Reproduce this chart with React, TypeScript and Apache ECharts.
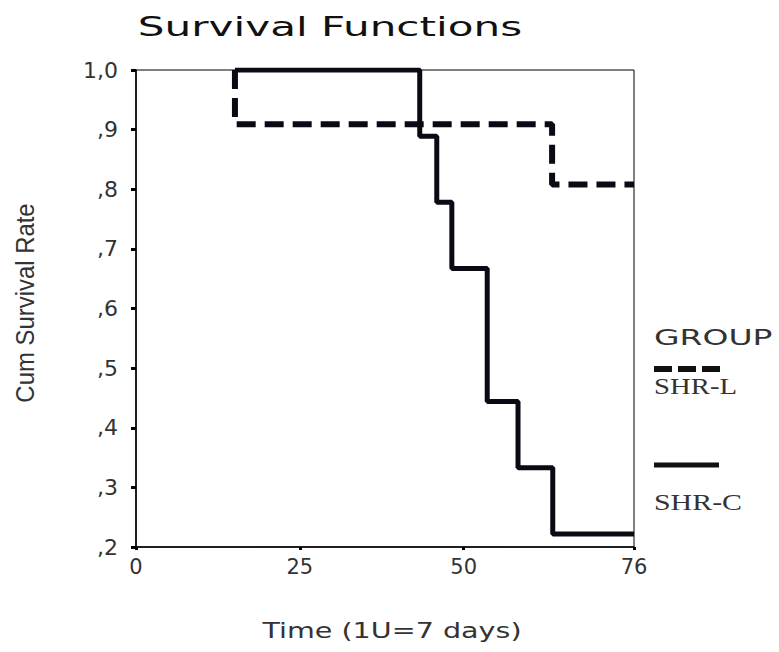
import React, { useEffect, useRef } from "react";
import * as echarts from "echarts";

// Kaplan-Meier step data (time in units of 7 days)
const timesC = [15.1, 43.3, 45.9, 48.2, 53.6, 58.3, 63.6, 76];
const survC = [1.0, 0.889, 0.778, 0.667, 0.444, 0.333, 0.222, 0.222];
const timesL = [15.1, 15.1, 63.5, 76];
const survL = [1.0, 0.909, 0.808, 0.808];

const xTicks = { min: 0, max: 76, interval: 25 };
const yTicks = { min: 0.2, max: 1.0, interval: 0.1 };

const titleText = "Survival Functions";
const xName = "Time (1U=7 days)";
const yName = "Cum Survival Rate";
const legendTitle = "GROUP";
const groupNames = ["SHR-L", "SHR-C"];

export default function App() {
  const ref = useRef<HTMLDivElement>(null);
  useEffect(() => {
    if (!ref.current) return;
    const chart = echarts.init(ref.current, null, { renderer: "svg" });
    const dataC = timesC.map((t, i) => [t, survC[i]]);
    const dataL = timesL.map((t, i) => [t, survL[i]]);
    const sans = "DejaVu Sans";
    chart.setOption({
      animation: false,
      backgroundColor: "#fff",
      grid: {
        left: 136,
        right: 145,
        top: 70,
        bottom: 105,
        show: true,
        borderColor: "#000",
        borderWidth: 1,
      },
      xAxis: {
        type: "value",
        min: xTicks.min,
        max: xTicks.max,
        interval: xTicks.interval,
        splitLine: { show: false },
        axisLine: { show: true, lineStyle: { color: "#000", width: 1.5 } },
        axisTick: { show: true, length: 3, lineStyle: { color: "#000", width: 3 } },
        axisLabel: {
          show: true,
          margin: 9,
          color: "#333",
          fontFamily: sans,
          fontSize: 21,
          showMaxLabel: true,
          showMinLabel: true,
          formatter: (v: number) => String(Math.round(v)),
        },
      },
      yAxis: {
        type: "value",
        min: yTicks.min,
        max: yTicks.max,
        interval: yTicks.interval,
        splitLine: { show: false },
        axisLine: { show: true, lineStyle: { color: "#000", width: 1.5 } },
        axisTick: { show: true, length: 5, lineStyle: { color: "#000", width: 3 } },
        axisLabel: {
          show: true,
          margin: 18,
          color: "#333",
          fontFamily: sans,
          fontSize: 22,
          formatter: (v: number) =>
            v >= 0.999 ? "1,0" : "," + String(Math.round(v * 10)),
        },
      },
      series: [
        {
          name: groupNames[0],
          type: "line",
          step: "end",
          data: dataL,
          symbol: "none",
          lineStyle: { color: "#0a0a14", width: 6, type: [19, 9] },
          z: 3,
        },
        {
          name: groupNames[1],
          type: "line",
          step: "end",
          data: dataC,
          symbol: "none",
          lineStyle: { color: "#0a0a14", width: 5, type: "solid" },
          z: 4,
        },
      ],
      graphic: [
        {
          type: "text",
          x: 330,
          y: 27,
          scaleX: 1.62,
          style: {
            text: titleText,
            fontFamily: sans,
            fontSize: 26,
            fill: "#111",
            align: "center",
            verticalAlign: "middle",
          },
        },
        {
          type: "text",
          x: 392,
          y: 630,
          scaleX: 1.3,
          style: {
            text: xName,
            fontFamily: sans,
            fontSize: 22,
            fill: "#333",
            align: "center",
            verticalAlign: "middle",
          },
        },
        {
          type: "text",
          x: 25,
          y: 303,
          rotation: Math.PI / 2,
          scaleX: 0.92,
          style: {
            text: yName,
            fontFamily: "Liberation Sans",
            fontSize: 26,
            fill: "#333",
            align: "center",
            verticalAlign: "middle",
          },
        },
        {
          type: "text",
          x: 654,
          y: 338,
          scaleX: 1.5,
          style: {
            text: legendTitle,
            fontFamily: sans,
            fontSize: 22,
            fill: "#333",
            align: "left",
            verticalAlign: "middle",
          },
        },
        {
          type: "line",
          shape: { x1: 654, y1: 369, x2: 720, y2: 369 },
          style: { stroke: "#111", lineWidth: 6, lineDash: [18, 6] },
        },
        {
          type: "text",
          x: 654,
          y: 386,
          scaleX: 1.25,
          style: {
            text: groupNames[0],
            fontFamily: "Liberation Serif",
            fontSize: 23,
            fill: "#333",
            align: "left",
            verticalAlign: "middle",
          },
        },
        {
          type: "line",
          shape: { x1: 654, y1: 465, x2: 719, y2: 465 },
          style: { stroke: "#111", lineWidth: 5 },
        },
        {
          type: "text",
          x: 654,
          y: 502,
          scaleX: 1.3,
          style: {
            text: groupNames[1],
            fontFamily: "Liberation Serif",
            fontSize: 23,
            fill: "#333",
            align: "left",
            verticalAlign: "middle",
          },
        },
      ],
    });
    return () => chart.dispose();
  }, []);
  return (
    <div
      ref={ref}
      style={{ position: "fixed", left: 0, top: 0, width: 779, height: 652, background: "#fff" }}
    />
  );
}
